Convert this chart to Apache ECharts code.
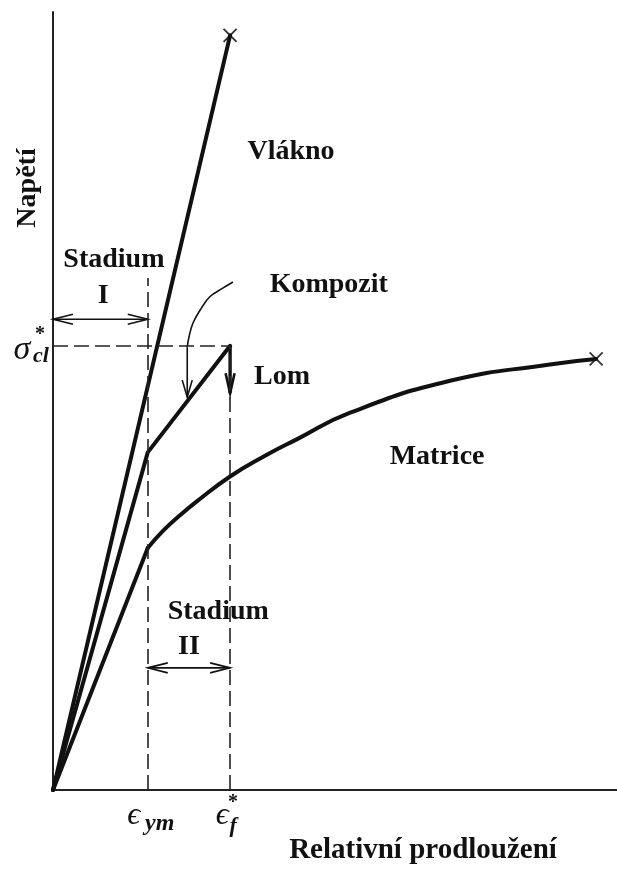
<!DOCTYPE html>
<html><head><meta charset="utf-8">
<script src="https://cdn.jsdelivr.net/npm/echarts@6/dist/echarts.min.js"></script>
<style>html,body{margin:0;padding:0;background:#fff}#c{width:617px;height:871px}</style>
</head><body><div id="c"></div>
<script>
// ---- data (x: relative elongation, y: stress; arbitrary units 0..100) ----
const strainTicks = [16.8, 31.4];          // ε_ym, ε_f*
const sigmaCl = 57.1;                      // σ*_cl
const fiber = [[0, 0], [31.4, 97.0]];
const composite = [[0, 0], [16.8, 43.4], [31.4, 57.1]];
const matrixLinear = [[0, 0], [16.8, 31.1]];
const matrixCurve = [[16.8, 31.1], [19.5, 33.3], [22.5, 35.3], [25.5, 37.1], [31.4, 40.3], [37.2, 42.8],
                     [43.3, 45.1], [52.7, 48.5], [70.4, 52.6], [88.1, 54.7], [96.3, 55.4]];
const lomTip = 51.0;
const pointerCurve = [[31.9, 65.3], [30.1, 64.5], [27.8, 63.4], [26.1, 61.7], [24.8, 60.0], [24.1, 58.2], [23.8, 56.9]];
const pointerTip = [23.8, 50.5];
const stage1ArrowY = 60.5;
const stage2ArrowY = 15.7;
const ymDashTop = 65.8;
const labelTexts = ['Vlákno', 'Kompozit', 'Stadium', 'I', 'Lom', 'Matrice', 'Stadium', 'II'];
const labelX = [42.2, 48.9, 10.8, 8.9, 40.6, 68.1, 29.3, 24.1];
const labelY = [82.0, 64.9, 68.2, 63.5, 53.1, 42.8, 22.9, 18.4];

const SERIF = '"Liberation Serif","DejaVu Serif",serif';
const INK = '#111';
const chart = echarts.init(document.getElementById('c'));

// arrows: [x1,y1,x2,y2, heads(1 end / 2 both), kind]
const arrows = [
  [0, stage1ArrowY, strainTicks[0], stage1ArrowY, 2, 0],
  [strainTicks[0], stage2ArrowY, strainTicks[1], stage2ArrowY, 2, 0],
  [composite[2][0], sigmaCl, composite[2][0], lomTip, 1, 1],
  [pointerCurve[pointerCurve.length - 1][0], pointerCurve[pointerCurve.length - 1][1], pointerTip[0], pointerTip[1], 1, 2]
];

function arrowRender(params, api) {
  const p1 = api.coord([api.value(0), api.value(1)]);
  const p2 = api.coord([api.value(2), api.value(3)]);
  const both = api.value(4) === 2;
  const kind = api.value(5);
  const dx = p2[0] - p1[0], dy = p2[1] - p1[1];
  const len = Math.hypot(dx, dy);
  const ux = dx / len, uy = dy / len, nx = -uy, ny = ux;
  const L = kind === 2 ? 17 : 20, W = kind === 1 ? 4.5 : 5;
  const head = (tip, d) => [
    [tip[0] - d * L * ux + W * nx, tip[1] - d * L * uy + W * ny],
    [tip[0], tip[1]],
    [tip[0] - d * L * ux - W * nx, tip[1] - d * L * uy - W * ny]
  ];
  const lw = kind === 1 ? 3.4 : 1.6;
  const hw = kind === 1 ? 2.6 : 1.6;
  const children = [
    { type: 'line', shape: { x1: p1[0], y1: p1[1], x2: p2[0], y2: p2[1] }, style: { stroke: INK, lineWidth: lw } },
    { type: 'polyline', shape: { points: head(p2, 1) }, style: { stroke: INK, fill: null, lineWidth: hw } }
  ];
  if (both) children.push({ type: 'polyline', shape: { points: head(p1, -1) }, style: { stroke: INK, fill: null, lineWidth: hw } });
  return { type: 'group', children };
}

function crossRender(params, api) {
  const p = api.coord([api.value(0), api.value(1)]);
  const s = 6.5;
  return { type: 'group', children: [
    { type: 'line', shape: { x1: p[0] - s, y1: p[1] - s, x2: p[0] + s, y2: p[1] + s }, style: { stroke: '#333', lineWidth: 1.8 } },
    { type: 'line', shape: { x1: p[0] - s, y1: p[1] + s, x2: p[0] + s, y2: p[1] - s }, style: { stroke: '#333', lineWidth: 1.8 } }
  ]};
}

// text pieces anchored at data coords with small pixel offsets
const B28 = 'bold 28px ' + SERIF;
const textItems = labelTexts.map((t, i) => ({ at: [labelX[i], labelY[i]], parts: [{ text: t, dx: 0, dy: 0, font: B28 }] }));
textItems.push({ at: [strainTicks[0], 0], parts: [
  { text: 'ϵ', dx: -14, dy: 26, font: 'italic 32px ' + SERIF },
  { text: 'ym', dx: 12, dy: 34, font: 'italic bold 24px ' + SERIF }
]});
textItems.push({ at: [strainTicks[1], 0], parts: [
  { text: 'ϵ', dx: -8, dy: 26, font: 'italic 32px ' + SERIF },
  { text: '*', dx: 3, dy: 13, font: 'bold 20px ' + SERIF },
  { text: 'f', dx: 3, dy: 36, font: 'italic bold 22px ' + SERIF }
]});
textItems.push({ at: [0, sigmaCl], parts: [
  { text: 'σ', dx: -31, dy: 4, font: 'italic 34px ' + SERIF },
  { text: '*', dx: -13, dy: -11, font: 'bold 20px ' + SERIF },
  { text: 'cl', dx: -12, dy: 11, font: 'italic bold 22px ' + SERIF }
]});

function textRender(params, api) {
  const item = textItems[api.value(2)];
  const p = api.coord([api.value(0), api.value(1)]);
  return { type: 'group', children: item.parts.map(pt => ({
    type: 'text', x: p[0] + pt.dx, y: p[1] + pt.dy,
    style: { text: pt.text, font: pt.font, fill: INK, align: 'center', verticalAlign: 'middle' }
  }))};
}

const solid = (data, extra) => Object.assign({
  type: 'line', data, symbol: 'none', silent: true, animation: false,
  lineStyle: { color: INK, width: 4, cap: 'round', join: 'round' }
}, extra || {});

const dashStyle = { color: '#222', width: 1.6, type: [15, 6] };

chart.setOption({
  animation: false,
  backgroundColor: '#fff',
  grid: { left: 53, right: 0, top: 12, bottom: 81 },
  xAxis: { type: 'value', min: 0, max: 100, axisLine: { lineStyle: { color: '#222', width: 2 } },
    axisTick: { show: false }, axisLabel: { show: false }, splitLine: { show: false } },
  yAxis: { type: 'value', min: 0, max: 100, axisLine: { show: true, lineStyle: { color: '#222', width: 2 } },
    axisTick: { show: false }, axisLabel: { show: false }, splitLine: { show: false } },
  series: [
    solid(fiber, { name: 'Vlákno' }),
    solid(composite, { name: 'Kompozit' }),
    solid(matrixLinear, { name: 'Matrice' }),
    solid(matrixCurve, { name: 'Matrice', smooth: 0.5 }),
    solid(pointerCurve, { name: 'pointer', smooth: 0.4, lineStyle: { color: INK, width: 1.6 } }),
    {
      type: 'line', data: [], symbol: 'none', silent: true,
      markLine: { silent: true, symbol: ['none', 'none'], label: { show: false }, lineStyle: dashStyle,
        data: [
          [{ coord: [strainTicks[0], 0] }, { coord: [strainTicks[0], ymDashTop] }],
          [{ coord: [strainTicks[1], 0] }, { coord: [strainTicks[1], sigmaCl] }],
          [{ coord: [0, sigmaCl] }, { coord: [strainTicks[1], sigmaCl] }]
        ] }
    },
    { type: 'custom', renderItem: arrowRender, data: arrows, silent: true, clip: false, encode: { x: [0, 2], y: [1, 3] } },
    { type: 'custom', renderItem: crossRender, data: [fiber[fiber.length - 1], matrixCurve[matrixCurve.length - 1]], silent: true, clip: false },
    { type: 'custom', renderItem: textRender, data: textItems.map((it, i) => [it.at[0], it.at[1], i]), silent: true, clip: false, z: 10 }
  ],
  graphic: [
    { type: 'text', x: 28, y: 188, rotation: Math.PI / 2,
      style: { text: 'Napětí', font: B28, fill: INK, align: 'center', verticalAlign: 'middle' } },
    { type: 'text', x: 423, y: 851,
      style: { text: 'Relativní prodloužení', font: 'bold 29px ' + SERIF, fill: INK, align: 'center', verticalAlign: 'middle' } }
  ]
});
</script></body></html>
